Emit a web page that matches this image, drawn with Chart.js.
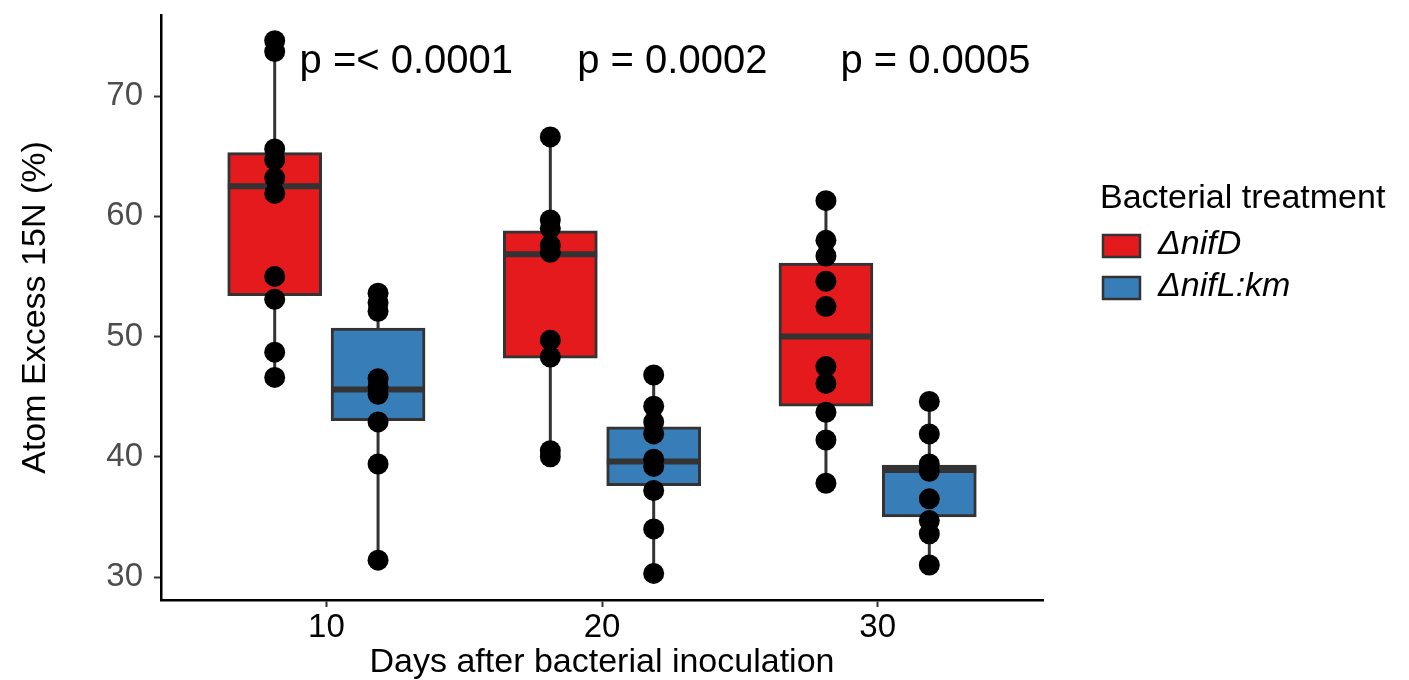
<!DOCTYPE html>
<html>
<head>
    <meta charset="utf-8">
    <title>Atom Excess 15N</title>
    <script src="https://cdn.jsdelivr.net/npm/chart.js"></script>
    <style>
        body { margin: 0; background: #fff; }
    </style>
</head>
<body>
    <canvas id="myChart" width="1409" height="680"></canvas>

    <script>
        // categories / legend / labels
        const days = ['10', '20', '30'];
        const treatments = ['ΔnifD', 'ΔnifL:km'];
        const yTicks = [30, 40, 50, 60, 70];
        const pLabels = ['p =< 0.0001', 'p = 0.0002', 'p = 0.0005'];

        // single plants, one list per day
        const nifD_points = [
            [74.6, 73.7, 65.6, 64.7, 63.2, 61.9, 55.0, 53.1, 48.7, 46.6],
            [66.6, 59.7, 59.0, 57.6, 57.0, 49.7, 48.3, 40.5, 40.0],
            [61.3, 58.0, 56.7, 54.6, 52.5, 47.5, 46.1, 43.7, 41.4, 37.8]
        ];
        const nifL_points = [
            [53.6, 52.8, 52.1, 46.5, 45.8, 45.2, 42.9, 39.4, 31.4],
            [46.8, 44.2, 42.9, 41.9, 39.8, 39.2, 37.2, 34.0, 30.3],
            [44.6, 41.9, 39.4, 38.8, 36.5, 34.7, 33.6, 31.0]
        ];

        // box statistics (whisker low, Q1, median, Q3, whisker high)
        const nifD_low = [46.6, 40.0, 37.8];
        const nifD_q1 = [53.4, 48.2, 44.2];
        const nifD_med = [62.5, 56.85, 50.0];
        const nifD_q3 = [65.3, 58.8, 56.1];
        const nifD_high = [74.6, 66.6, 61.3];

        const nifL_low = [31.4, 30.3, 31.0];
        const nifL_q1 = [43.0, 37.6, 35.0];
        const nifL_med = [45.6, 39.6, 38.9];
        const nifL_q3 = [50.7, 42.5, 39.3];
        const nifL_high = [53.6, 46.8, 44.6];

        const colors = ['#E41A1C', '#377EB8'];
        const dodge = 0.1875;
        const halfBox = 0.17;
        const FONT = "'Liberation Sans', Arial, sans-serif";

        function groupDatasets(t, color, pts, low, q1, med, q3, high) {
            const off = t === 0 ? -dodge : dodge;
            const xs = days.map((d, i) => i + 1 + off);
            return [
                {
                    type: 'line',
                    data: xs.flatMap((x, i) => [{x: x, y: low[i]}, {x: x, y: high[i]}, {x: x, y: null}]),
                    borderColor: '#333333',
                    borderWidth: 3,
                    pointRadius: 0,
                    spanGaps: false,
                    order: 3
                },
                {
                    type: 'bar',
                    label: treatments[t],
                    data: xs.map((x, i) => ({x: x, y: [q1[i], q3[i]]})),
                    backgroundColor: color,
                    borderColor: '#333333',
                    borderWidth: 3,
                    borderSkipped: false,
                    barThickness: 94,
                    grouped: false,
                    order: 2
                },
                {
                    type: 'line',
                    data: xs.flatMap((x, i) => [{x: x - halfBox, y: med[i]}, {x: x + halfBox, y: med[i]}, {x: x, y: null}]),
                    borderColor: '#333333',
                    borderWidth: 6,
                    borderCapStyle: 'butt',
                    pointRadius: 0,
                    spanGaps: false,
                    order: 1
                },
                {
                    type: 'scatter',
                    data: xs.flatMap((x, i) => pts[i].map(v => ({x: x, y: v}))),
                    backgroundColor: '#000000',
                    borderWidth: 0,
                    pointRadius: 10.5,
                    pointHoverRadius: 10.5,
                    order: 0
                }
            ];
        }

        // p values + legend drawn on top
        const extras = {
            id: 'extras',
            afterDraw(chart) {
                const ctx = chart.ctx;
                const xs = chart.scales.x, ys = chart.scales.y;
                ctx.save();
                ctx.fillStyle = '#000';
                ctx.font = '40px ' + FONT;
                ctx.textAlign = 'center';
                ctx.textBaseline = 'alphabetic';
                const pX = [1.29, 2.255, 3.21];
                pLabels.forEach((txt, i) => {
                    ctx.fillText(txt, xs.getPixelForValue(pX[i]), ys.getPixelForValue(71.9));
                });

                // legend
                ctx.textAlign = 'left';
                ctx.font = '34px ' + FONT;
                ctx.fillText('Bacterial treatment', 1100, 208);
                ctx.font = 'italic 34px ' + FONT;
                treatments.forEach((name, i) => {
                    const top = 235 + i * 42;
                    ctx.fillStyle = colors[i];
                    ctx.fillRect(1103, top, 37, 22);
                    ctx.strokeStyle = '#333333';
                    ctx.lineWidth = 2.5;
                    ctx.strokeRect(1103, top, 37, 22);
                    ctx.fillStyle = '#000';
                    ctx.fillText(name, 1158, top + 19);
                });
                ctx.restore();
            }
        };

        const ctx = document.getElementById('myChart').getContext('2d');
        const myChart = new Chart(ctx, {
            type: 'scatter',
            data: {
                datasets: [
                    ...groupDatasets(0, colors[0], nifD_points, nifD_low, nifD_q1, nifD_med, nifD_q3, nifD_high),
                    ...groupDatasets(1, colors[1], nifL_points, nifL_low, nifL_q1, nifL_med, nifL_q3, nifL_high)
                ]
            },
            options: {
                responsive: false,
                animation: false,
                layout: { padding: { top: 15, right: 366, left: 0, bottom: 0 } },
                plugins: {
                    legend: { display: false },
                    tooltip: { enabled: false }
                },
                scales: {
                    x: {
                        type: 'linear',
                        min: 0.4,
                        max: 3.6,
                        offset: false,
                        afterFit: s => { s.height = 80; s.paddingLeft = 0; s.paddingRight = 0; },
                        afterBuildTicks: s => { s.ticks = days.map((d, i) => ({value: i + 1})); },
                        border: { color: '#000', width: 2.5 },
                        grid: { display: true, drawOnChartArea: false, offset: false, tickLength: 7, tickColor: '#333333', tickWidth: 2 },
                        ticks: {
                            color: '#000',
                            padding: 1,
                            font: { family: FONT, size: 33 },
                            callback: v => days[v - 1]
                        },
                        title: {
                            display: true,
                            text: 'Days after bacterial inoculation',
                            color: '#000',
                            font: { family: FONT, size: 34, lineHeight: 1 },
                            padding: { top: 1, bottom: 0 }
                        }
                    },
                    y: {
                        type: 'linear',
                        min: 28.09,
                        max: 76.74,
                        afterFit: s => { s.width = 161; s.paddingTop = 0; s.paddingBottom = 0; },
                        afterBuildTicks: s => { s.ticks = yTicks.map(v => ({value: v})); },
                        border: { color: '#000', width: 2.5 },
                        grid: { display: true, drawOnChartArea: false, tickLength: 7, tickColor: '#333333', tickWidth: 2 },
                        ticks: {
                            color: '#4D4D4D',
                            padding: 11,
                            font: { family: FONT, size: 33 }
                        },
                        title: {
                            display: true,
                            text: 'Atom Excess 15N (%)',
                            color: '#000',
                            font: { family: FONT, size: 34, lineHeight: 1 },
                            padding: { top: 19, bottom: 0 }
                        }
                    }
                }
            },
            plugins: [extras]
        });
    </script>
</body>
</html>
